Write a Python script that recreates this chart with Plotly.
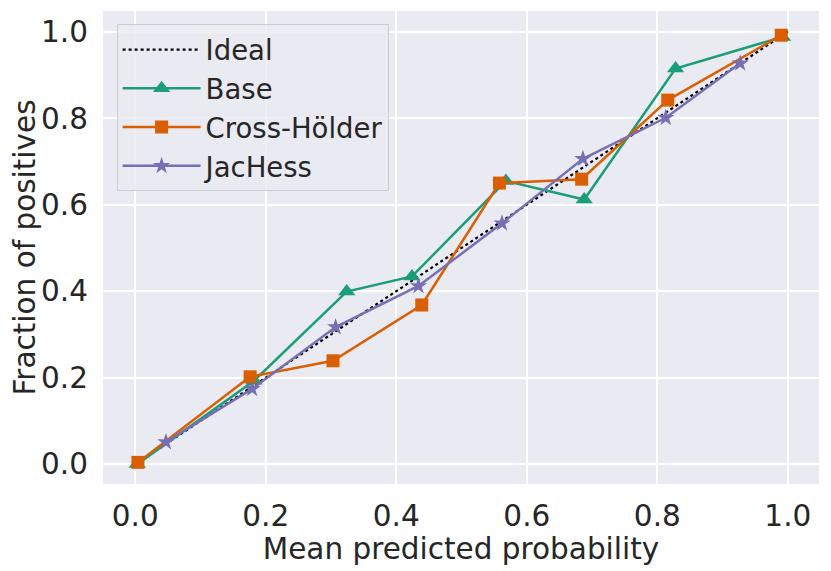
import plotly.graph_objects as go

# calibration curves
ideal_x = [0.0, 1.0]
ideal_y = [0.0, 1.0]

base_x = [0.003, 0.182, 0.324, 0.424, 0.568, 0.688, 0.828, 0.992]
base_y = [0.000, 0.193, 0.399, 0.434, 0.655, 0.612, 0.915, 0.988]

cross_x = [0.004, 0.176, 0.303, 0.439, 0.558, 0.684, 0.816, 0.990]
cross_y = [0.004, 0.202, 0.239, 0.368, 0.650, 0.659, 0.842, 0.992]

jac_x = [0.047, 0.179, 0.307, 0.434, 0.562, 0.686, 0.813, 0.927]
jac_y = [0.051, 0.174, 0.317, 0.412, 0.557, 0.706, 0.801, 0.927]

tick_vals = [0.0, 0.2, 0.4, 0.6, 0.8, 1.0]
tick_text = ["0.0", "0.2", "0.4", "0.6", "0.8", "1.0"]

TEXT = "#262626"
FONT = "DejaVu Sans"
FS = 29.5

fig = go.Figure()

fig.add_trace(
    go.Scatter(
        x=ideal_x,
        y=ideal_y,
        mode="lines",
        name="Ideal",
        line=dict(color="black", width=2.2, dash="dot"),
    )
)

series = [
    ("Base", base_x, base_y, "#1b9e77", "triangle-up", 15),
    ("Cross-Hölder", cross_x, cross_y, "#d95f02", "square", 13),
    ("JacHess", jac_x, jac_y, "#7570b3", "star", 13),
]
for name, xs, ys, color, symbol, size in series:
    fig.add_trace(
        go.Scatter(
            x=xs,
            y=ys,
            mode="lines+markers",
            name=name,
            line=dict(color=color, width=2.5),
            marker=dict(symbol=symbol, size=size, color=color),
        )
    )

axis_common = dict(
    tickvals=tick_vals,
    ticktext=tick_text,
    showgrid=True,
    gridcolor="white",
    gridwidth=1.5,
    zeroline=False,
    showline=False,
    ticks="",
    automargin=False,
    tickfont=dict(family=FONT, size=FS, color=TEXT),
)

# page body adds an 8px offset, so the figure is a little smaller than the window
fig.update_layout(
    width=823,
    height=563,
    paper_bgcolor="white",
    plot_bgcolor="#eaeaf2",
    margin=dict(l=95, r=12, t=3, b=87),
    font=dict(family=FONT, size=FS, color=TEXT),
    xaxis=dict(
        **axis_common,
        range=[-0.0495, 1.0478],
        ticklabelstandoff=11,
        title=dict(text="Mean predicted probability", standoff=1,
                   font=dict(family=FONT, size=FS, color=TEXT)),
    ),
    yaxis=dict(
        **axis_common,
        range=[-0.046, 1.048],
        ticklabelstandoff=14,
        title=dict(text="Fraction of positives", standoff=8,
                   font=dict(family=FONT, size=FS, color=TEXT)),
    ),
    legend=dict(
        x=0.019,
        y=0.972,
        xanchor="left",
        yanchor="top",
        bgcolor="rgba(234,234,242,0.8)",
        bordercolor="#cccccc",
        borderwidth=1,
        font=dict(family=FONT, size=FS - 2, color=TEXT),
        itemwidth=78,
        tracegroupgap=0,
    ),
    showlegend=True,
)

fig.write_html("out.html")
